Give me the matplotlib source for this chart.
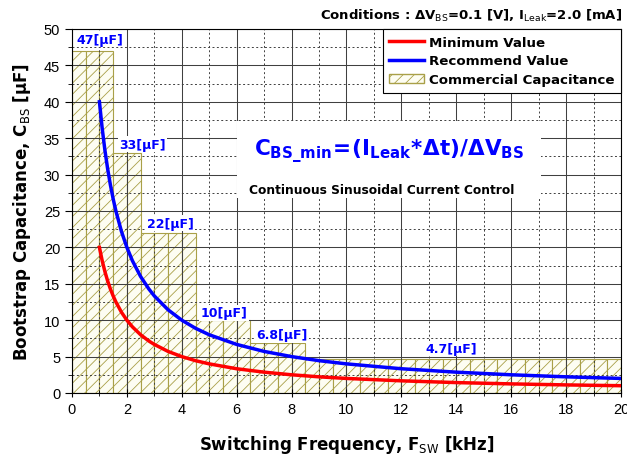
import numpy as np
import matplotlib
matplotlib.use("Agg")
import matplotlib.pyplot as plt
from matplotlib.patches import Patch, Rectangle
from matplotlib.lines import Line2D
from matplotlib.ticker import MultipleLocator

# ---------------- data ----------------
freq_khz = [1.0, 1.1, 1.2, 1.3, 1.4, 1.5, 1.6, 1.8, 2.0, 2.2, 2.5, 2.8, 3.0, 3.5,
            4.0, 4.5, 5.0, 6.0, 7.0, 8.0, 9.0, 10.0, 12.0, 14.0, 16.0, 18.0, 20.0]
c_min = [20.0, 18.18, 16.67, 15.38, 14.29, 13.33, 12.5, 11.11, 10.0, 9.09, 8.0, 7.14,
         6.67, 5.71, 5.0, 4.44, 4.0, 3.33, 2.86, 2.5, 2.22, 2.0, 1.67, 1.43, 1.25,
         1.11, 1.0]
c_rec = [40.0, 36.36, 33.33, 30.77, 28.57, 26.67, 25.0, 22.22, 20.0, 18.18, 16.0,
         14.29, 13.33, 11.43, 10.0, 8.89, 8.0, 6.67, 5.71, 5.0, 4.44, 4.0, 3.33,
         2.86, 2.5, 2.22, 2.0]

# commercial capacitance steps (left edge of each 0.5 kHz bar)
bar_left = [0.0, 0.5, 1.0, 1.5, 2.0, 2.5, 3.0, 3.5, 4.0, 4.5, 5.0, 5.5, 6.0, 6.5,
            7.0, 7.5, 8.0, 8.5, 9.0, 9.5, 10.0, 10.5, 11.0, 11.5, 12.0, 12.5,
            13.0, 13.5, 14.0, 14.5, 15.0, 15.5, 16.0, 16.5, 17.0, 17.5, 18.0,
            18.5, 19.0, 19.5]
bar_cap = [47, 47, 47, 33, 33, 22, 22, 22, 22, 10, 10, 10, 10, 6.8, 6.8, 6.8, 6.8,
           4.7, 4.7, 4.7, 4.7, 4.7, 4.7, 4.7, 4.7, 4.7, 4.7, 4.7, 4.7, 4.7, 4.7,
           4.7, 4.7, 4.7, 4.7, 4.7, 4.7, 4.7, 4.7, 4.7]

cap_labels = ["47[μF]", "33[μF]", "22[μF]", "10[μF]", "6.8[μF]", "4.7[μF]"]
label_x = [1.0, 2.57, 3.57, 5.53, 7.65, 13.8]
label_y = [48.6, 34.2, 23.3, 11.0, 8.0, 6.1]

# ---------------- style ----------------
plt.rcParams["font.family"] = ["DejaVu Sans"]
plt.rcParams["mathtext.fontset"] = "custom"
plt.rcParams["mathtext.rm"] = "DejaVu Sans:bold"
plt.rcParams["mathtext.it"] = "DejaVu Sans:bold"
plt.rcParams["mathtext.bf"] = "DejaVu Sans:bold"
plt.rcParams["mathtext.sf"] = "DejaVu Sans"
plt.rcParams["hatch.linewidth"] = 0.6

OLIVE = "#a9a048"

fig = plt.figure(figsize=(6.27, 4.6), dpi=100)
ax = fig.add_axes([0.1148, 0.1435, 0.8756, 0.7913])

ax.bar(bar_left, bar_cap, width=0.5, align="edge", facecolor="#fdfdf2",
       edgecolor=OLIVE, linewidth=0.8, hatch="///", zorder=1)
ax.plot(freq_khz, c_min, color="#ff0000", linewidth=2.5, zorder=4)
ax.plot(freq_khz, c_rec, color="#0000ff", linewidth=2.5, zorder=4)

for txt, x, y in zip(cap_labels, label_x, label_y):
    ax.text(x, y, txt, color="#0000ff", fontsize=9, fontweight="bold",
            ha="center", va="center", zorder=5,
            bbox=dict(facecolor="white", edgecolor="none", pad=1.0))

# white panel behind the formula
ax.add_patch(Rectangle((6.0, 26.8), 11.1, 10.6, facecolor="white",
                       edgecolor="none", zorder=3))
ax.text(11.55, 33.3,
        r"$\mathrm{C_{BS\_min}\!=\!(I_{Leak}\!*\!\Delta t)/\Delta V_{BS}}$",
        color="#0000ff", fontsize=15.5, ha="center", va="center", zorder=5)
ax.text(11.3, 27.9, "Continuous Sinusoidal Current Control", fontsize=8.8,
        fontweight="bold", ha="center", va="center", zorder=5)

ax.set_xlim(0, 20)
ax.set_ylim(0, 50)
ax.xaxis.set_major_locator(MultipleLocator(2))
ax.xaxis.set_minor_locator(MultipleLocator(1))
ax.yaxis.set_major_locator(MultipleLocator(5))
ax.yaxis.set_minor_locator(MultipleLocator(2.5))
ax.grid(True, which="major", color="#404040", linestyle="-", linewidth=0.75)
ax.grid(True, which="minor", color="#404040", linestyle=(0, (2, 2.5)), linewidth=0.7)
ax.tick_params(axis="x", which="both", direction="inout", length=6)
ax.tick_params(axis="x", which="minor", length=4)
ax.tick_params(axis="y", which="both", direction="out", length=5)
ax.tick_params(axis="y", which="minor", length=3)
for lab in ax.get_xticklabels() + ax.get_yticklabels():
    lab.set_fontfamily("Liberation Sans")
    lab.set_fontsize(10.5)

ax.set_xlabel(r"Switching Frequency, F$_{\mathsf{SW}}$ [kHz]", fontsize=12,
              fontweight="bold", labelpad=12)
ax.set_ylabel(r"Bootstrap Capacitance, C$_{\mathsf{BS}}$ [μF]", fontsize=12,
              fontweight="bold", labelpad=8)

fig.text(0.992, 0.965,
         r"Conditions : $\Delta$V$_{\mathsf{BS}}$=0.1 [V], I$_{\mathsf{Leak}}$=2.0 [mA]",
         fontsize=9.5, fontweight="bold", ha="right", va="center")

handles = [Line2D([], [], color="#ff0000", linewidth=2.5),
           Line2D([], [], color="#0000ff", linewidth=2.5),
           Patch(facecolor="#fdfdf2", edgecolor=OLIVE, hatch="///")]
leg = ax.legend(handles, ["Minimum Value", "Recommend Value", "Commercial Capacitance"],
                loc="upper right", borderaxespad=0, fancybox=False,
                framealpha=1, edgecolor="black", prop=dict(weight="bold", size=9.6),
                handlelength=2.6, labelspacing=0.42, borderpad=0.5,
                handletextpad=0.35)
leg.set_zorder(6)
leg.get_frame().set_linewidth(0.8)

fig.savefig("out.png", dpi=100)
